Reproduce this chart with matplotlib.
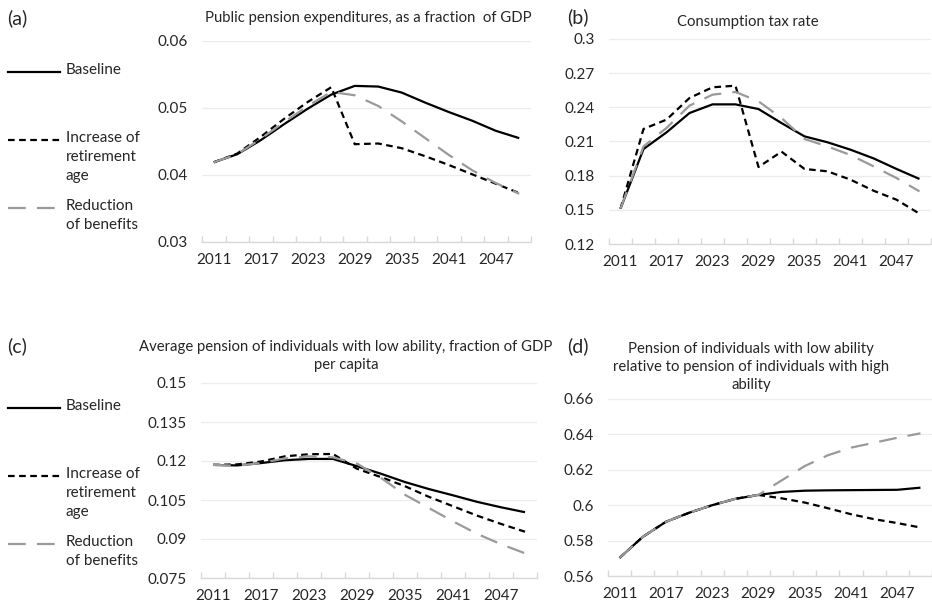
import numpy as np
import matplotlib
matplotlib.use('Agg')
import matplotlib.pyplot as plt
from matplotlib.lines import Line2D

plt.rcParams['font.family'] = ['Lato', 'DejaVu Sans']

years = list(range(2011, 2051, 3))  # 2011 ... 2050, every 3 years
tick_years = [2011, 2017, 2023, 2029, 2035, 2041, 2047]

# (a) public pension expenditures, fraction of GDP
a_base = [0.0419, 0.0431, 0.0452, 0.0476, 0.0499, 0.0520, 0.0533, 0.0532,
          0.0523, 0.0508, 0.0494, 0.0481, 0.0466, 0.0455]
a_ret = [0.0419, 0.0432, 0.0457, 0.0484, 0.0509, 0.0531, 0.0446, 0.0447,
         0.0440, 0.0428, 0.0415, 0.0401, 0.0387, 0.0373]
a_ben = [0.0419, 0.0431, 0.0454, 0.0479, 0.0503, 0.0524, 0.0519, 0.0503,
         0.0480, 0.0455, 0.0430, 0.0407, 0.0388, 0.0372]

# (b) consumption tax rate
b_base = [0.151, 0.2034, 0.218, 0.235, 0.2426, 0.2426, 0.2385, 0.2262,
          0.2145, 0.2093, 0.2028, 0.1952, 0.1859, 0.1771]
b_ret = [0.151, 0.221, 0.2292, 0.2482, 0.2576, 0.259, 0.1876, 0.2011,
         0.1859, 0.1838, 0.1765, 0.1668, 0.1589, 0.1466]
b_ben = [0.151, 0.2057, 0.2219, 0.2415, 0.2511, 0.2535, 0.2453, 0.2306,
         0.2122, 0.2057, 0.1981, 0.1882, 0.1779, 0.1662]

# (c) average pension of low-ability individuals, fraction of GDP per capita
c_base = [0.1185, 0.1183, 0.1192, 0.1203, 0.1208, 0.1208, 0.1180, 0.1151,
          0.1119, 0.1092, 0.1068, 0.1043, 0.1022, 0.1003]
c_ret = [0.1185, 0.1187, 0.1198, 0.1218, 0.1226, 0.1227, 0.1170, 0.1138,
         0.1103, 0.1062, 0.1026, 0.0990, 0.0958, 0.0928]
c_ben = [0.1185, 0.1182, 0.1192, 0.1210, 0.1218, 0.1214, 0.1190, 0.1135,
         0.1070, 0.1019, 0.0968, 0.0920, 0.0880, 0.0845]

# (d) low-ability pension relative to high-ability pension
d_base = [0.5702, 0.5821, 0.5906, 0.5957, 0.6000, 0.6036, 0.6058, 0.6075,
          0.6082, 0.6084, 0.6085, 0.6086, 0.6087, 0.6099]
d_ret = [0.5702, 0.5821, 0.5906, 0.5957, 0.6000, 0.6036, 0.6058, 0.6039,
         0.6015, 0.5983, 0.5949, 0.5921, 0.5899, 0.5874]
d_ben = [0.5702, 0.5821, 0.5906, 0.5957, 0.6000, 0.6036, 0.6058, 0.6140,
         0.6221, 0.6282, 0.6325, 0.6353, 0.6381, 0.6406]

series_names = ['Baseline', 'Increase of\nretirement\nage', 'Reduction\nof benefits']

GRAY = '#9a9a9a'
AXC = '#d9d9d9'
GRID = '#ececec'
TXT = '#262626'
styles = [dict(color='black', lw=1.6, ls='-'),
          dict(color='black', lw=1.6, ls=(0, (3, 2))),
          dict(color=GRAY, lw=1.6, ls=(0, (8, 5)))]

fig = plt.figure(figsize=(9.32, 6.10), dpi=100)

W, H = 932.0, 610.0
def px_axes(l, r, b, t):
    return fig.add_axes([l / W, 1 - b / H, (r - l) / W, (b - t) / H])

# axes box (px), data, y range, y step, title, title centre (px)
panels = [
    (px_axes(202, 531, 242, 41), [a_base, a_ret, a_ben], (0.03, 0.06), 0.01,
     'Public pension expenditures, as a fraction  of GDP', (368, 18)),
    (px_axes(609, 931, 244, 39), [b_base, b_ret, b_ben], (0.12, 0.30), 0.03,
     'Consumption tax rate', (748, 22)),
    (px_axes(201, 537, 578, 383), [c_base, c_ret, c_ben], (0.075, 0.15), 0.015,
     'Average pension of individuals with low ability, fraction of GDP\nper capita', (346, 356)),
    (px_axes(608, 932, 576, 399), [d_base, d_ret, d_ben], (0.56, 0.66), 0.02,
     'Pension of individuals with low ability\nrelative to pension of individuals with high\nability', (751, 367)),
]

x = np.arange(len(years))
for ax, data, (lo, hi), step, title, (tx, ty) in panels:
    for vals, st in zip(data, styles):
        ax.plot(x, vals, solid_capstyle='butt', dash_capstyle='butt', **st)
    ax.set_xlim(-0.5, len(years) - 0.5)
    ax.set_ylim(lo, hi)
    yt = np.round(np.arange(lo, hi + step / 2, step), 4)
    ax.set_yticks(yt)
    ax.set_yticklabels([('%.3f' % v).rstrip('0').rstrip('.') for v in yt])
    ax.set_xticks([years.index(y) for y in tick_years])
    ax.set_xticklabels([str(y) for y in tick_years])
    ax.set_xticks(np.arange(-0.5, len(years)), minor=True)
    for s in ['top', 'right', 'left']:
        ax.spines[s].set_visible(False)
    ax.spines['bottom'].set_color(AXC)
    ax.spines['bottom'].set_linewidth(1.0)
    ax.grid(axis='y', color=GRID, lw=0.9)
    ax.set_axisbelow(True)
    ax.tick_params(axis='y', length=0, pad=10, labelsize=11, labelcolor=TXT)
    ax.tick_params(axis='x', which='major', length=0, pad=8, labelsize=11, labelcolor=TXT)
    ax.tick_params(axis='x', which='minor', direction='in', length=4, color=AXC, width=1.0)
    fig.text(tx / W, 1 - ty / H, title, fontsize=10.7, color=TXT, ha='center',
             va='center', multialignment='center', linespacing=1.34)

# panel letters
for lbl, (px, py) in zip(['(a)', '(b)', '(c)', '(d)'],
                         [(7, 18), (567, 17), (7, 346), (567, 346)]):
    fig.text(px / W, 1 - py / H, lbl, fontsize=14, va='center', ha='left', color=TXT)

# side legends for panels (a) and (c)
for top in (72, 408):
    rows = [top, top + 68, top + 136]
    for name, st, ry in zip(series_names, styles, rows):
        yf = 1 - ry / H
        fig.add_artist(Line2D([8 / W, 60 / W], [yf, yf], transform=fig.transFigure, **st))
        fig.text(66 / W, yf + 9 / H, name, fontsize=11, va='top', ha='left', color=TXT,
                 linespacing=1.45)

fig.savefig('out.png', dpi=100)
